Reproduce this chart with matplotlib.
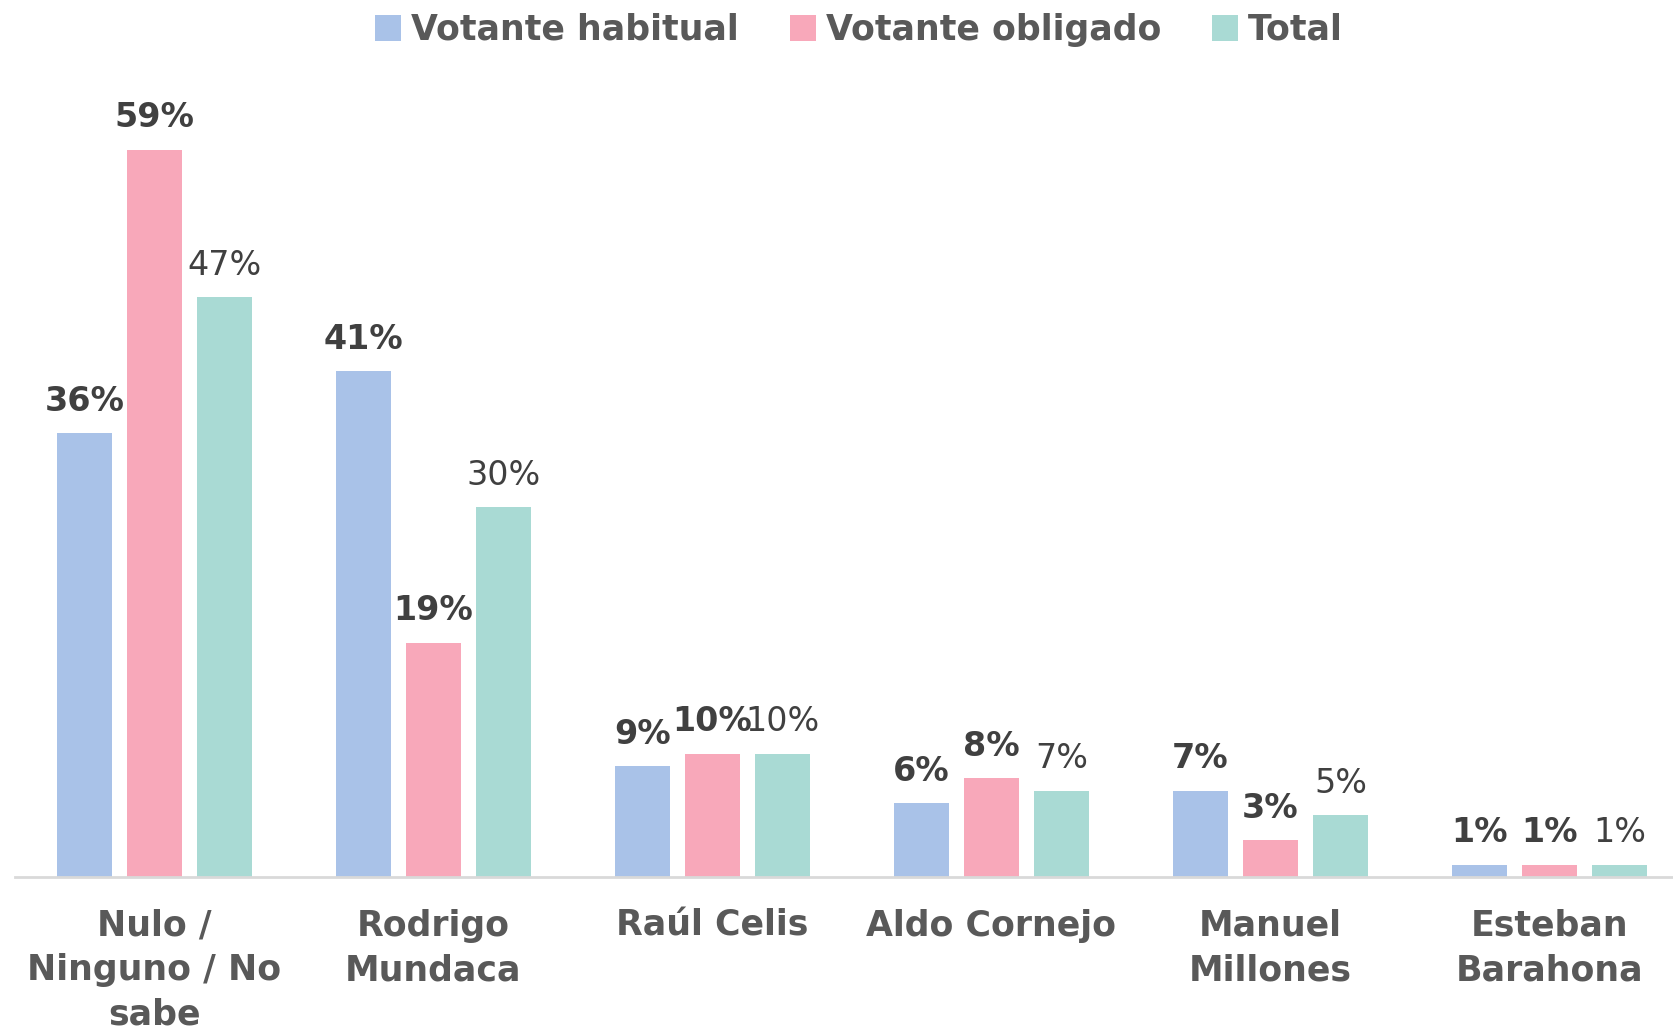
import matplotlib
matplotlib.use("Agg")
import matplotlib.pyplot as plt
from matplotlib.patches import Patch
import numpy as np

categories = ["Nulo /\nNinguno / No\nsabe", "Rodrigo\nMundaca", "Raúl Celis",
              "Aldo Cornejo", "Manuel\nMillones", "Esteban\nBarahona"]
series_names = ["Votante habitual", "Votante obligado", "Total"]
habitual = [36, 41, 9, 6, 7, 1]
obligado = [59, 19, 10, 8, 3, 1]
total = [47, 30, 10, 7, 5, 1]
colors = ["#A9C2E8", "#F8A8BA", "#A9DAD4"]

plt.rcParams['font.family'] = ['DejaVu Sans']

W, H = 1673, 1034
fig = plt.figure(figsize=(W / 100, H / 100), dpi=100)
left_px, base_px, top_px = 15, 877, 60
ax = fig.add_axes([left_px / W, (H - base_px) / H, (W - left_px) / W, (base_px - top_px) / H])

cat_px = 279.0
x = np.arange(len(categories))
bw = 55 / cat_px
step = 70 / cat_px
series = [habitual, obligado, total]
weights = ["bold", "bold", "normal"]
for i, (vals, c, wgt) in enumerate(zip(series, colors, weights)):
    xs = x + (i - 1) * step
    ax.bar(xs, vals, width=bw, color=c, zorder=2)
    for xi, v in zip(xs, vals):
        ax.annotate(f"{v}%", (xi, v), xytext=(0, 11), textcoords="offset points",
                    ha="center", va="bottom", fontsize=24, fontweight=wgt,
                    color="#404040")

px_per_unit = 12.33
ax.set_ylim(0, (base_px - top_px) / px_per_unit)
ax.set_xlim(-0.5, -0.5 + (W - left_px) / cat_px)
for s in ["top", "right", "left"]:
    ax.spines[s].set_visible(False)
ax.spines["bottom"].set_color("#D9D9D9")
ax.spines["bottom"].set_linewidth(2)
ax.set_yticks([])
ax.set_xticks(x)
ax.set_xticklabels(categories, fontsize=25, fontweight="bold", color="#595959",
                   linespacing=1.38)
ax.tick_params(axis="x", length=0, pad=23)

handles = [Patch(facecolor=c, label=n) for c, n in zip(colors, series_names)]
leg = fig.legend(handles=handles, loc="center", bbox_to_anchor=(859 / W, 1 - 30 / H),
                 ncol=3, frameon=False, fontsize=25, handlelength=0.75, handleheight=0.75,
                 handletextpad=0.3, columnspacing=1.45)
for t in leg.get_texts():
    t.set_fontweight("bold")
    t.set_color("#595959")

fig.savefig("out.png", dpi=100)
